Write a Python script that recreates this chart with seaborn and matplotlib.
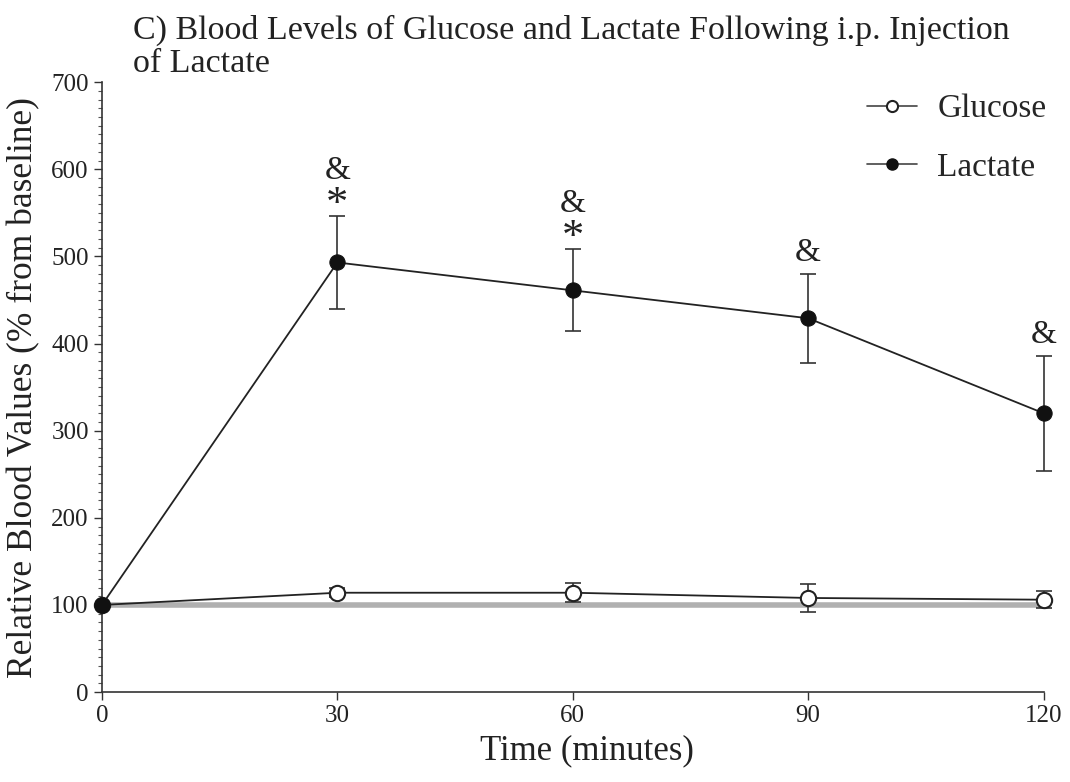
import matplotlib
matplotlib.use("Agg")
import matplotlib.pyplot as plt
import seaborn as sns
import pandas as pd
from matplotlib.ticker import MultipleLocator
from matplotlib.lines import Line2D

sns.set_theme(style="ticks")
plt.rcParams['font.family'] = ['Liberation Serif', 'DejaVu Serif']

time_min = [0, 30, 60, 90, 120]
glucose = [100, 114, 114, 108, 106]
glucose_err = [0, 5, 11, 16, 10]
lactate = [100, 493, 461, 429, 320]
lactate_err = [0, 53, 47, 51, 66]
amp_marks = ["", "&", "&", "&", "&"]
star_marks = ["", "*", "*", "", ""]

df = pd.DataFrame({
    "Time": time_min * 2,
    "Value": glucose + lactate,
    "Series": ["Glucose"] * 5 + ["Lactate"] * 5,
})

fig = plt.figure(figsize=(10.7, 7.82), dpi=100)
ax = fig.add_axes([0.0953, 0.115, 0.88, 0.78])

ax.axhline(100, color="#b0b0b0", lw=4, zorder=1)

ax.errorbar(time_min, glucose, yerr=glucose_err, fmt="none", ecolor="#333333",
            elinewidth=1.2, capsize=6, capthick=1.2, zorder=2, clip_on=False)
ax.errorbar(time_min, lactate, yerr=lactate_err, fmt="none", ecolor="#333333",
            elinewidth=1.2, capsize=6, capthick=1.2, zorder=2, clip_on=False)

sns.lineplot(data=df, x="Time", y="Value", hue="Series", style="Series",
             palette={"Glucose": "#222222", "Lactate": "#222222"},
             markers={"Glucose": "o", "Lactate": "o"}, dashes=False,
             linewidth=1.3, markersize=11, ax=ax, legend=False, zorder=3)

for ln in ax.get_lines():
    ln.set_clip_on(False)
    yd = list(ln.get_ydata())
    if len(yd) == 5 and yd[1] == glucose[1]:
        ln.set_markerfacecolor("white")
        ln.set_markeredgecolor("#222222")
        ln.set_markeredgewidth(1.5)
        ln.set_zorder(4)
    elif len(yd) == 5 and yd[1] == lactate[1]:
        ln.set_markerfacecolor("#111111")
        ln.set_markeredgecolor("#111111")
        ln.set_zorder(4)

for t, v, e, a, s in zip(time_min, lactate, lactate_err, amp_marks, star_marks):
    top = v + e
    if s:
        ax.annotate(s, (t, top), xytext=(0, 8), textcoords="offset points",
                    ha="center", va="center", fontsize=32, color="#222222")
        ax.annotate(a, (t, top), xytext=(0, 33), textcoords="offset points",
                    ha="center", va="center", fontsize=24, color="#222222")
    elif a:
        ax.annotate(a, (t, top), xytext=(0, 15), textcoords="offset points",
                    ha="center", va="center", fontsize=24, color="#222222")

ax.set_xlim(0, 120)
ax.set_ylim(0, 700)
ax.set_xticks(time_min)
ax.yaxis.set_major_locator(MultipleLocator(100))
ax.yaxis.set_minor_locator(MultipleLocator(10))
ax.tick_params(axis="both", which="major", labelsize=18, length=6, width=1,
               color="#333333", labelcolor="#222222")
ax.tick_params(axis="y", which="minor", length=3, width=0.8, color="#555555")
for sp in ["top", "right"]:
    ax.spines[sp].set_visible(False)
for sp in ["left", "bottom"]:
    ax.spines[sp].set_color("#333333")
    ax.spines[sp].set_linewidth(1.2)

ax.set_xlabel("Time (minutes)", fontsize=25, color="#222222")
ax.xaxis.set_label_coords(0.515, -0.07)
ax.set_ylabel("Relative Blood Values (% from baseline)", fontsize=25.5,
              color="#222222")
ax.yaxis.set_label_coords(-0.066, 0.5)

fig.text(0.124, 0.94, "C) Blood Levels of Glucose and Lactate Following i.p. Injection\nof Lactate",
         fontsize=24.5, ha="left", va="center", color="#222222", linespacing=1.1)

handles = [
    Line2D([], [], color="#444444", lw=1.2, marker="o", markersize=8,
           markerfacecolor="white", markeredgecolor="#222222", markeredgewidth=1.5),
    Line2D([], [], color="#444444", lw=1.2, marker="o", markersize=8,
           markerfacecolor="#111111", markeredgecolor="#111111"),
]
ax.legend(handles, ["Glucose", "Lactate"], loc="upper right", bbox_to_anchor=(1.035, 1.03),
          frameon=False, fontsize=24, handlelength=1.5, labelspacing=0.85, handletextpad=0.6)

fig.savefig("out.png", dpi=100)
